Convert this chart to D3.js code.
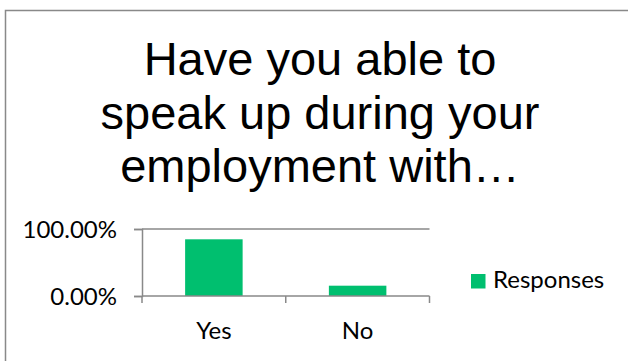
<!DOCTYPE html>
<html>
<head>
<meta charset="utf-8">
<script src="https://cdn.jsdelivr.net/npm/d3@7"></script>
<style>
  html, body { margin: 0; padding: 0; background: #fff; }
  svg { display: block; }
</style>
</head>
<body>
<svg id="chart" width="628" height="361"></svg>
<script>
// Survey answers and their share of responses
const categories = ["Yes", "No"];
const responses = [0.8462, 0.1538];
const yTicks = [0, 1];
const titleLines = ["Have you able to", "speak up during your", "employment with…"];
const seriesName = "Responses";

const green = "#00bf6f";
const axisGrey = "#898989";
const labelFont = "Lato, 'Open Sans', sans-serif";
const labelSize = 24;

const svg = d3.select("#chart");

// outer chart frame (runs off the right and bottom edges)
svg.append("rect")
  .attr("x", 5.5).attr("y", 10.5)
  .attr("width", 700).attr("height", 400)
  .attr("fill", "#fff")
  .attr("stroke", axisGrey)
  .attr("stroke-width", 1.5);

// title
const title = svg.append("text")
  .attr("text-anchor", "middle")
  .attr("font-family", "'Liberation Sans', Arial, sans-serif")
  .attr("font-size", 47)
  .attr("fill", "#000");
titleLines.forEach((line, i) => {
  title.append("tspan").attr("x", 320).attr("y", 75 + i * 53.5).text(line);
});

// plot area
const plot = { left: 142, right: 429.5, top: 229, bottom: 296 };

const x = d3.scaleBand()
  .domain(categories)
  .range([plot.left, plot.right])
  .paddingInner(0.6)
  .paddingOuter(0.3);

const y = d3.scaleLinear()
  .domain([0, 1])
  .range([plot.bottom, plot.top]);

const pct = d3.format(".2%");

// horizontal gridline at 100%
svg.append("g")
  .selectAll("line")
  .data(yTicks.filter(t => t > 0))
  .join("line")
  .attr("x1", plot.left).attr("x2", plot.right)
  .attr("y1", d => y(d)).attr("y2", d => y(d))
  .attr("stroke", axisGrey).attr("stroke-width", 1.5);

// bars
svg.append("g")
  .selectAll("rect")
  .data(categories.map((c, i) => ({ c, v: responses[i] })))
  .join("rect")
  .attr("x", d => x(d.c))
  .attr("width", x.bandwidth())
  .attr("y", d => y(d.v))
  .attr("height", d => y(0) - y(d.v))
  .attr("fill", green);

// y axis
const yAxis = svg.append("g")
  .attr("transform", `translate(${plot.left},0)`)
  .call(d3.axisLeft(y).tickValues(yTicks).tickFormat(pct).tickSize(8).tickPadding(17));
yAxis.select(".domain").attr("stroke", axisGrey).attr("stroke-width", 1.5);
yAxis.selectAll(".tick line").attr("stroke", axisGrey).attr("stroke-width", 1.5);
yAxis.selectAll(".tick text")
  .attr("font-family", labelFont).attr("font-size", labelSize)
  .attr("fill", "#000").attr("dy", "0.36em");

// x axis: ticks sit on the category boundaries
const xBounds = [plot.left, (plot.left + plot.right) / 2, plot.right];
const xAxis = svg.append("g");
xAxis.append("line")
  .attr("x1", plot.left).attr("x2", plot.right)
  .attr("y1", plot.bottom).attr("y2", plot.bottom)
  .attr("stroke", axisGrey).attr("stroke-width", 1.5);
xAxis.selectAll("line.tick")
  .data(xBounds)
  .join("line")
  .attr("class", "tick")
  .attr("x1", d => d).attr("x2", d => d)
  .attr("y1", plot.bottom).attr("y2", plot.bottom + 7)
  .attr("stroke", axisGrey).attr("stroke-width", 1.5);
xAxis.selectAll("text")
  .data(categories)
  .join("text")
  .attr("x", d => x(d) + x.bandwidth() / 2)
  .attr("y", 339)
  .attr("text-anchor", "middle")
  .attr("font-family", labelFont).attr("font-size", labelSize)
  .attr("fill", "#000")
  .text(d => d);

// legend
const legend = svg.append("g").attr("transform", "translate(471,274)");
legend.append("rect")
  .attr("width", 14.5).attr("height", 14.5)
  .attr("fill", green);
legend.append("text")
  .attr("x", 22).attr("y", 13.5)
  .attr("font-family", labelFont).attr("font-size", labelSize)
  .attr("fill", "#000")
  .text(seriesName);
</script>
</body>
</html>
